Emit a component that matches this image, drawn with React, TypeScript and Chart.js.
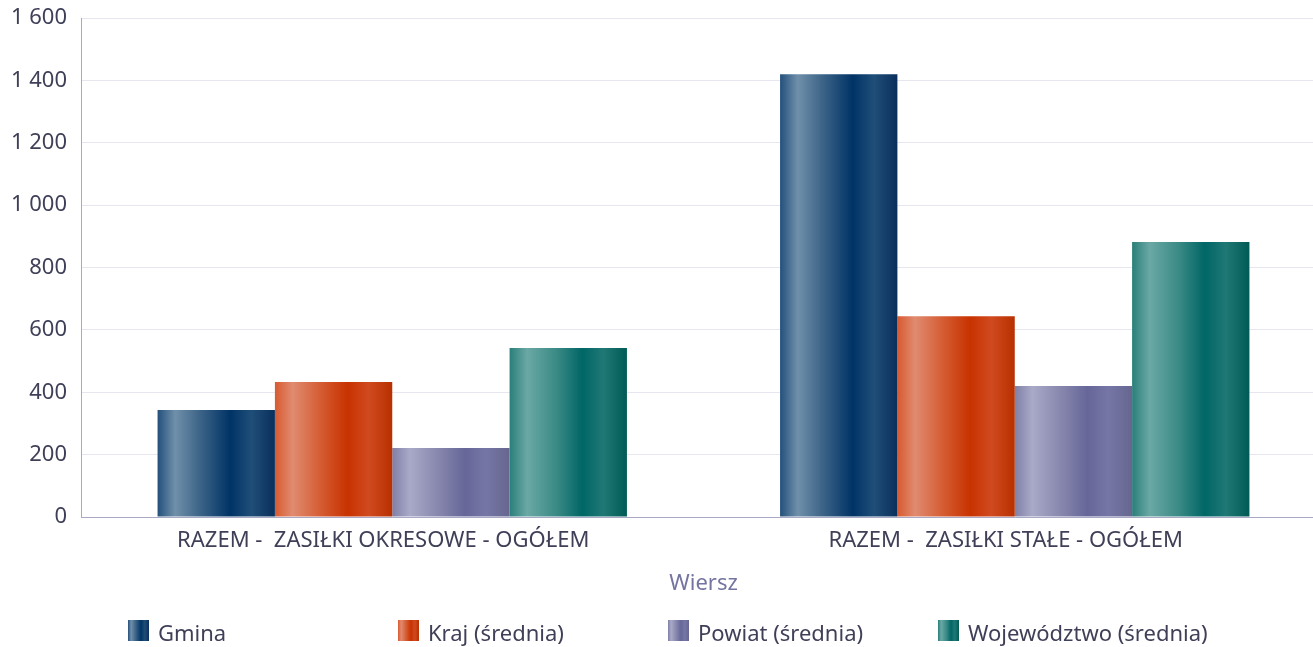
import React, { useEffect, useRef } from "react";
import { Chart, registerables } from "chart.js";

Chart.register(...registerables);

const categories = ["RAZEM -  ZASIŁKI OKRESOWE - OGÓŁEM", "RAZEM -  ZASIŁKI STAŁE - OGÓŁEM"];
const seriesNames = ["Gmina", "Kraj (średnia)", "Powiat (średnia)", "Województwo (średnia)"];
const gminaValues = [343, 1420];
const krajValues = [433, 644];
const powiatValues = [221, 420];
const wojewodztwoValues = [542, 882];
const yMin = 0;
const yMax = 1600;
const yStep = 200;
const axisTitle = "Wiersz";

const seriesValues = [gminaValues, krajValues, powiatValues, wojewodztwoValues];

const gradientStops: [number, string][][] = [
  [[0, "#24507c"], [0.15, "#7090aa"], [0.35, "#3f6689"], [0.62, "#003366"], [0.8, "#1f4e78"], [1, "#0a2f5c"]],
  [[0, "#d85a30"], [0.15, "#e08b70"], [0.4, "#d45a30"], [0.62, "#c83200"], [0.8, "#d04a20"], [1, "#b83000"]],
  [[0, "#8080a8"], [0.15, "#a9a9c8"], [0.4, "#8686ad"], [0.62, "#666699"], [0.8, "#7676a6"], [1, "#666690"]],
  [[0, "#2a7f7a"], [0.15, "#6aa8a5"], [0.4, "#3a8a85"], [0.62, "#006666"], [0.8, "#207875"], [1, "#005a55"]],
];
const solidColors = ["#003366", "#c83200", "#666699", "#006666"];

const FONT = "'Noto Sans', 'Open Sans', sans-serif";
const TEXT = "#3f3f58";

function makeGradient(ctx: CanvasRenderingContext2D, x0: number, x1: number, stops: [number, string][]) {
  const g = ctx.createLinearGradient(x0, 0, x1, 0);
  stops.forEach(([o, c]) => g.addColorStop(o, c));
  return g;
}

const gradientPlugin = {
  id: "barGradients",
  beforeDatasetsDraw(chart: any) {
    const ctx = chart.ctx;
    chart.data.datasets.forEach((_ds: any, i: number) => {
      const meta = chart.getDatasetMeta(i);
      meta.data.forEach((el: any) => {
        const { x, width } = el.getProps(["x", "width"], true);
        const g = makeGradient(ctx, x - width / 2, x + width / 2, gradientStops[i]);
        el.options = Object.assign({}, el.options, { backgroundColor: g });
      });
    });
  },
};

const legendPlugin = {
  id: "customLegend",
  afterDraw(chart: any) {
    const ctx = chart.ctx;
    ctx.save();
    const startX = 128;
    const spacing = 270;
    const boxTop = 620;
    const box = 21;
    seriesNames.forEach((name, i) => {
      const x = startX + i * spacing;
      ctx.fillStyle = makeGradient(ctx, x, x + box, gradientStops[i]);
      ctx.fillRect(x, boxTop, box, box);
      ctx.fillStyle = TEXT;
      ctx.font = `22px ${FONT}`;
      ctx.textBaseline = "alphabetic";
      ctx.textAlign = "left";
      ctx.fillText(name, x + 30, 641);
    });
    ctx.restore();
  },
};

function formatThousands(v: number) {
  return String(v).replace(/\B(?=(\d{3})+(?!\d))/g, " ");
}

export default function App() {
  const canvasRef = useRef<HTMLCanvasElement | null>(null);

  useEffect(() => {
    if (!canvasRef.current) return;
    const chart = new Chart(canvasRef.current, {
      type: "bar",
      data: {
        labels: categories,
        datasets: seriesNames.map((name, i) => ({
          label: name,
          data: seriesValues[i],
          backgroundColor: solidColors[i],
          borderWidth: 0,
          barPercentage: 1,
          categoryPercentage: 0.754,
        })),
      },
      options: {
        responsive: false,
        animation: false,
        devicePixelRatio: 1,
        layout: { padding: { top: 18, left: 0, right: 0, bottom: 50 } },
        plugins: {
          legend: { display: false },
          tooltip: { enabled: false },
        },
        scales: {
          x: {
            grid: { display: false, drawTicks: false },
            border: { display: true, color: "#a9a9c6", width: 1 },
            ticks: {
              color: TEXT,
              font: { family: FONT, size: 22 },
              padding: 11,
              labelOffset: -9,
              maxRotation: 0,
              autoSkip: false,
            },
            title: {
              display: true,
              text: axisTitle,
              color: "#7474a0",
              font: { family: FONT, size: 22 },
              padding: { top: 0, bottom: 0 },
            },
            afterFit(scale: any) {
              scale.height = 80;
              scale.paddingLeft = 0;
              scale.paddingRight = 0;
            },
          },
          y: {
            min: yMin,
            max: yMax,
            grid: { color: "#e6e6f0", drawTicks: false, lineWidth: 1 },
            border: { display: true, color: "#a9a9c6", width: 1 },
            ticks: {
              stepSize: yStep,
              color: TEXT,
              font: { family: FONT, size: 22 },
              padding: 14,
              callback: (v: any) => formatThousands(Number(v)),
            },
            afterFit(scale: any) {
              scale.width = 81;
              scale.paddingTop = 0;
              scale.paddingBottom = 0;
            },
          },
        },
      },
      plugins: [gradientPlugin, legendPlugin],
    } as any);
    return () => chart.destroy();
  }, []);

  return (
    <div style={{ position: "fixed", left: 0, top: 0, width: 1313, height: 647, overflow: "hidden", background: "#fff" }}>
      <canvas ref={canvasRef} width={1326} height={647} style={{ display: "block", width: 1326, height: 647 }} />
    </div>
  );
}
